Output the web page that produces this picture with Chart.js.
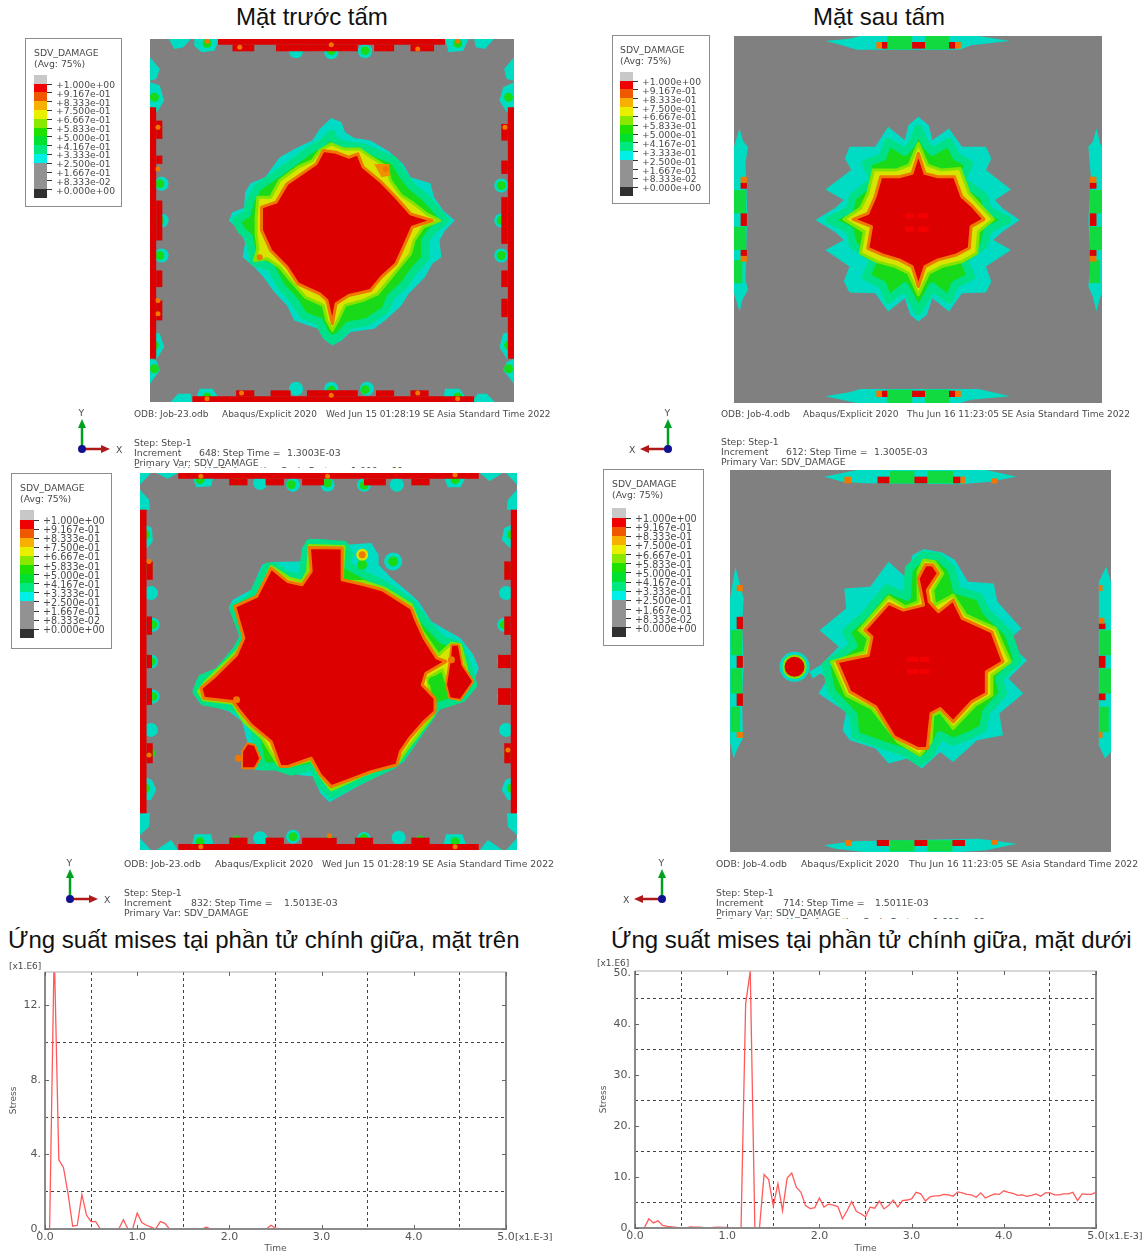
<!DOCTYPE html>
<html>
<head>
<meta charset="utf-8">
<title>SDV_DAMAGE</title>
<script src="https://cdn.jsdelivr.net/npm/chart.js@4/dist/chart.umd.min.js"></script>
<style>
html, body { margin: 0; padding: 0; background: #fff; }
#page { position: relative; width: 1147px; height: 1254px; overflow: hidden; }
#page canvas { position: absolute; filter: blur(0.7px); }
.txt { position: absolute; white-space: pre; transform: translateY(-50%); }
.note { font-family: "DejaVu Sans", sans-serif; font-size: 9.3px; color: #4a4a4a; filter: blur(0.25px); }
.head { font-family: "Liberation Sans", Arial, sans-serif; color: #111; }
.box { position: absolute; border: 1.5px solid #8c8c8c; background: #fff; box-sizing: border-box; }
.swatch { position: absolute; }
.cut { position: absolute; overflow: hidden; white-space: pre; font-family: "DejaVu Sans", sans-serif; font-size: 9.3px; line-height: 11px; color: #4a4a4a; }
</style>
</head>
<body>
<div id="page"></div>
<script>
// legend of the contour plots
const legendValues = ['+1.000e+00', '+9.167e-01', '+8.333e-01', '+7.500e-01', '+6.667e-01', '+5.833e-01', '+5.000e-01',
    '+4.167e-01', '+3.333e-01', '+2.500e-01', '+1.667e-01', '+8.333e-02', '+0.000e+00'];
const legendColors = ['#c8c8c8', '#f00000', '#f05800', '#f8b000', '#e8f000', '#88e800', '#20e000', '#00e030',
    '#00e880', '#00f0e8', '#929292', '#929292', '#929292', '#303030'];

// --- front face, t = 1.3 ms (plate units)
const frontCyan = [[912,352],[940,365],[950,395],[975,412],[1020,420],[1070,452],[1110,490],[1130,530],[1185,548],[1195,590],[1220,630],[1252,660],[1225,690],[1210,720],[1215,770],[1190,790],[1170,830],[1125,880],[1105,915],[1060,960],[1030,985],[965,995],[940,1020],[915,1035],[890,1015],[875,985],[810,960],[790,915],[755,875],[725,830],[700,800],[668,770],[675,725],[660,690],[630,660],[640,635],[672,622],[675,575],[690,548],[730,530],[770,470],[820,440],[860,420],[880,385]];
const frontGreen = [[912,400],[925,425],[960,435],[1000,440],[1040,460],[1085,480],[1110,525],[1135,560],[1170,590],[1195,620],[1225,660],[1190,690],[1170,720],[1170,775],[1140,810],[1115,850],[1075,890],[1060,930],[1010,965],[960,975],[935,1005],[915,1020],[895,1000],[880,965],[835,945],[810,900],[775,860],[745,800],[700,785],[695,760],[685,710],[665,690],[650,660],[680,640],[690,600],[710,560],[750,530],[795,495],[850,450],[890,425]];
const frontYellow = [[912,430],[945,445],[990,445],[1015,465],[1065,500],[1075,540],[1105,585],[1140,610],[1175,640],[1210,660],[1165,680],[1140,720],[1130,760],[1100,800],[1070,840],[1040,880],[1000,900],[950,915],[930,960],[915,990],[900,960],[890,915],[840,890],[800,840],[770,800],[735,775],[700,780],[710,745],[705,700],[705,650],[710,590],[745,590],[770,540],[820,500],[860,480],[880,450]];
const frontRed = [[890,450],[925,455],[960,470],[985,460],[1000,500],[1050,545],[1090,590],[1130,640],[1190,660],[1135,680],[1115,730],[1090,790],[1050,830],[1020,870],[960,885],[925,910],[915,970],[900,900],[880,880],[820,850],[790,800],[745,750],[720,690],[720,620],[760,605],[790,550],[830,520],[870,490]];
const frontPatches = [[[1030,490],[1070,490],[1075,525],[1050,530]]];
const frontLobes = [
    [[465,115],[525,115],[505,140],[480,145]], [[535,115],[605,115],[590,150],[555,155],[535,135]],
    [[1225,115],[1290,115],[1275,150],[1235,155]], [[1305,115],[1360,115],[1335,145],[1310,140]],
    [[470,1205],[490,1180],[525,1180],[530,1205]], [[535,1205],[550,1165],[585,1165],[610,1205]],
    [[1220,1205],[1225,1165],[1265,1165],[1290,1205]], [[1300,1205],[1315,1180],[1340,1180],[1362,1205]],
    [[413,170],[440,205],[430,235],[413,240]], [[413,245],[440,255],[452,300],[432,335],[413,320]],
    [[413,1075],[430,1080],[440,1110],[413,1150]], [[413,990],[440,1000],[452,1040],[432,1075],[413,1075]],
    [[1415,170],[1388,205],[1395,235],[1415,240]], [[1415,245],[1385,260],[1375,300],[1395,335],[1415,320]],
    [[1415,1075],[1395,1085],[1385,1110],[1415,1150]], [[1415,990],[1385,1000],[1375,1040],[1395,1075],[1415,1075]]
];
const frontBlocks = [
    [600,115,1225,132], [845,132,985,152], [640,132,700,152], [760,132,845,152], [1030,132,1085,152], [1130,132,1195,152],
    [530,1188,1305,1205], [845,1170,985,1188], [650,1170,700,1188], [745,1170,800,1188], [1035,1170,1085,1188], [1130,1170,1180,1188],
    [413,320,430,1075], [430,360,447,415], [430,465,447,490], [430,600,447,720], [430,810,447,860], [430,900,447,960],
    [1398,320,1415,1075], [1380,370,1398,420], [1380,480,1398,520], [1380,590,1398,730], [1380,810,1398,860], [1380,895,1398,950]
];
const frontCyanSpots = [[815,152],[912,155],[1005,152],[445,550],[445,660],[445,765],[1380,555],[1380,660],[1380,765],[815,1165],[912,1165],[1010,1165]];
const frontGreenSpots = [[912,150],[1005,150],[440,660],[1380,660],[912,1170],[1005,1168],[425,290],[425,1035],[1400,290],[1400,1035],[570,128],[1260,128],[570,1190],[1260,1190],[425,1105],[1400,1105],[440,550],[1380,555],[440,765],[1380,765]];
const frontOrangeSpots = [[435,380],[435,505],[435,900],[435,940],[1390,380],[660,140],[1150,145],[912,132],[1150,1178],[665,1178],[912,1185],[570,122],[570,1195],[1260,122],[1260,1195]];
const frontInnerOrange = [[1062,505],[715,770]];

// --- rear face, t = 1.3 ms
const rearCyan = [[947,350],[975,375],[985,420],[1030,385],[1065,440],[1130,440],[1145,475],[1130,510],[1198,568],[1155,600],[1175,625],[1222,660],[1175,695],[1150,720],[1198,750],[1130,800],[1145,845],[1130,878],[1065,880],[1030,935],[985,895],[970,945],[947,965],[925,945],[910,895],[865,935],[830,880],[760,878],[745,845],[760,800],[695,750],[745,720],[720,695],[668,660],[720,625],[745,600],[695,568],[765,510],[748,475],[760,440],[830,440],[865,380],[910,420],[920,375]];
const rearGreen = [[947,385],[965,430],[985,455],[1030,425],[1050,470],[1085,490],[1065,540],[1125,590],[1135,630],[1190,660],[1135,690],[1125,735],[1070,780],[1090,830],[1045,855],[1030,900],[985,860],[965,900],[947,935],[930,900],[910,860],[865,900],[850,855],[805,830],[825,780],[770,735],[760,690],[705,660],[760,630],[770,590],[825,540],[805,490],[850,470],[865,425],[910,455],[930,430]];
const rearYellow = [[947,430],[972,495],[1010,510],[1060,505],[1085,580],[1110,610],[1150,658],[1110,695],[1105,760],[1065,785],[1010,800],[975,820],[947,885],[920,820],[885,800],[835,785],[790,760],[800,695],[745,658],[790,625],[810,580],[825,510],[885,510],[922,495]];
const rearRed = [[947,460],[965,520],[1000,530],[1045,530],[1065,590],[1095,620],[1125,658],[1090,680],[1085,745],[1050,765],[1000,780],[965,800],[947,860],[930,800],[895,780],[850,765],[810,745],[820,680],[770,658],[810,640],[830,590],[845,530],[895,530],[930,520]];
const rearLobes = [
    [[462,385],[472,425],[485,440],[478,490],[480,530],[483,640],[480,760],[478,840],[485,870],[470,900],[462,935],[447,880],[447,440]],
    [[1430,385],[1440,430],[1445,440],[1445,880],[1438,900],[1430,935],[1420,890],[1408,860],[1415,790],[1408,660],[1415,530],[1408,440],[1420,425]],
    [[695,122],[760,115],[790,107],[1110,107],[1195,122],[1090,135],[1060,148],[780,148],[740,135]],
    [[695,1190],[760,1178],[790,1168],[1110,1168],[1195,1190],[1090,1200],[1060,1210],[780,1210]]
];
const rearGreens = [[447,570,480,640],[447,680,480,750],[447,780,470,850],[1412,570,1445,640],[1412,680,1445,750],[1412,780,1440,850],[863,107,930,147],[965,107,1030,147],[863,1170,930,1210],[965,1170,1030,1210]];
const rearBlocks = [[465,548,482,566],[465,640,482,678],[465,750,482,768],[1412,548,1430,566],[1412,640,1430,678],[1412,750,1430,768],[848,125,863,145],[930,125,965,145],[1030,125,1047,145],[848,1173,863,1192],[930,1173,965,1192],[1030,1173,1047,1192]];
const rearOrange = [[465,530,482,548],[465,768,482,785],[1412,530,1430,548],[1412,768,1430,785],[833,125,848,145],[1047,125,1062,145],[833,1173,848,1192],[1047,1173,1062,1192]];
const rearCore = [[912,640,935,655],[945,640,975,655],[912,680,935,695],[945,680,975,695]];

// --- front face, t = 1.5 ms
const frontLateCyan = [[850,222],[900,225],[950,240],[1020,235],[1040,270],[1040,300],[1075,340],[1130,390],[1150,410],[1185,470],[1265,520],[1300,570],[1315,610],[1290,680],[1250,710],[1195,740],[1180,770],[1160,810],[1110,890],[1085,910],[990,960],[905,1012],[880,985],[860,935],[820,930],[785,915],[700,915],[665,770],[630,740],[560,715],[530,680],[540,645],[590,615],[640,555],[660,510],[630,425],[640,405],[690,375],[720,300],[750,292],[825,290],[830,250]];
const frontLateGreen = [[850,235],[945,240],[960,270],[950,300],[1010,335],[1065,365],[1130,415],[1175,480],[1215,525],[1260,540],[1285,600],[1300,660],[1270,700],[1200,725],[1180,760],[1140,820],[1105,875],[1080,900],[1000,940],[910,990],[880,955],[860,905],[800,920],[760,905],[720,905],[700,800],[680,755],[635,725],[560,710],[540,680],[555,640],[600,620],[650,555],[670,515],[640,430],[690,400],[735,305],[755,305],[785,330],[830,340],[840,260]];
const frontLateYellow = [[850,242],[945,245],[940,350],[1000,350],[1055,370],[1130,420],[1160,500],[1205,570],[1240,535],[1265,540],[1290,650],[1260,705],[1235,695],[1225,650],[1215,615],[1175,640],[1180,680],[1195,720],[1190,750],[1120,850],[1095,890],[1000,930],[910,975],[885,940],[855,885],[790,905],[765,900],[720,820],[670,770],[640,715],[560,705],[545,680],[565,650],[650,560],[675,515],[650,425],[710,395],[745,305],[795,340],[830,350],[845,320]];
const frontLateRed = [[850,248],[940,250],[940,345],[1000,360],[1050,375],[1130,430],[1140,460],[1165,520],[1200,580],[1225,590],[1170,625],[1160,660],[1195,700],[1195,740],[1165,770],[1125,820],[1100,860],[1090,900],[1020,920],[960,945],[910,965],[880,930],[855,880],[790,905],[770,905],[745,830],[690,780],[660,740],[640,710],[560,700],[552,670],[590,635],[650,570],[670,520],[645,425],[705,395],[745,310],[790,350],[830,360],[855,320]];
const frontLateIslands = [
    [[1240,540],[1260,540],[1270,600],[1300,650],[1265,705],[1235,700],[1225,660],[1235,590]],
    [[665,860],[680,835],[700,840],[715,880],[700,910],[665,910]]
];
const frontLateLobes = [
    [[385,25],[415,25],[385,60]], [[1420,25],[1390,25],[1420,60]], [[385,1155],[415,1155],[385,1120]], [[1420,1155],[1390,1155],[1420,1120]],
    [[385,75],[410,105],[412,135],[385,135]], [[1420,75],[1395,105],[1392,135],[1420,135]],
    [[385,1045],[412,1045],[410,1085],[385,1110]], [[1420,1045],[1392,1045],[1395,1085],[1420,1110]],
    [[385,172],[418,190],[420,230],[405,250],[385,250]], [[1420,172],[1385,190],[1378,225],[1400,250],[1420,250]],
    [[385,930],[418,945],[430,975],[415,1005],[385,1005]], [[1420,930],[1388,945],[1378,975],[1395,1005],[1420,1005]],
    [[490,25],[430,25],[460,42]], [[525,25],[590,25],[580,65],[540,68]], [[1215,25],[1285,25],[1265,68],[1230,68]], [[1318,25],[1380,25],[1345,50]],
    [[430,1155],[470,1125],[490,1155]], [[525,1155],[535,1108],[580,1108],[590,1155]], [[1215,1155],[1225,1108],[1270,1108],[1285,1155]], [[1318,1155],[1340,1125],[1380,1155]]
];
const frontLateBlocks = [
    [490,25,1315,42], [630,42,680,62], [730,42,780,62], [830,42,890,62], [1000,42,1060,62], [1130,42,1180,62],
    [490,1137,1315,1155], [630,1118,680,1137], [730,1118,780,1137], [830,1118,925,1137], [975,1118,1025,1137], [1130,1118,1180,1137],
    [385,135,403,1045], [403,290,420,345], [403,455,418,510], [403,570,418,610], [403,670,418,720], [403,835,420,895],
    [1403,135,1420,1045], [1385,290,1403,345], [1385,455,1403,510], [1368,570,1403,610], [1368,670,1403,720], [1385,835,1403,895]
];
const frontLateCyanSpots = [[805,60],[900,60],[1000,60],[420,480],[415,590],[420,695],[1385,480],[1385,590],[1385,695],[805,1115],[1000,1122],[715,55],[1090,60],[415,385],[1390,385],[415,795],[1390,795],[715,1120],[1095,1118]];
const frontLateGreenSpots = [[900,55],[800,60],[1000,62],[420,480],[415,590],[420,695],[1385,480],[1385,590],[1385,695],[805,1115],[905,1125],[1000,1120],[410,310],[415,865],[1395,310],[1395,865],[550,45],[1250,45],[550,1130],[1250,1130],[400,210],[1405,210],[400,970],[1405,970],[650,1125],[1155,1125],[650,50],[1155,50]];
const frontLateOrangeSpots = [[905,1112],[900,35],[410,290],[410,870],[1395,855],[552,35],[1250,30],[552,1145],[1250,1145]];
const frontLateSatelliteCyan = [[1080,290]];
const frontLateSatelliteGreen = [[1080,290],[995,300],[1190,650]];
const frontLateSatelliteYellow = [[995,270]];
const frontLateInnerOrange = [[995,270],[650,705],[655,880],[1240,585]];

// --- rear face, t = 1.5 ms
const rearLateCyan = [[960,252],[1010,262],[1045,285],[1080,350],[1150,355],[1160,410],[1225,490],[1185,530],[1240,585],[1190,640],[1230,685],[1165,745],[1175,810],[1105,825],[1040,890],[1005,860],[955,910],[915,880],[865,895],[830,850],[760,825],[740,795],[750,740],[675,685],[700,640],[680,625],[660,640],[650,620],[680,600],[730,545],[678,495],[750,430],[745,370],[815,365],[865,290],[915,340],[930,270]];
const rearLateGreen = [[960,270],[1000,275],[1035,310],[1050,375],[1110,395],[1130,440],[1190,505],[1215,585],[1165,640],[1175,685],[1130,740],[1120,790],[1085,810],[1040,830],[1005,810],[975,870],[950,890],[905,860],[850,840],[775,810],[770,750],[710,680],[695,600],[770,540],[750,500],[800,450],[860,370],[915,395],[920,310]];
const rearLateYellow = [[960,285],[990,290],[1012,325],[985,375],[990,420],[1040,390],[1075,450],[1155,490],[1195,590],[1145,630],[1145,690],[1100,720],[1040,790],[1005,740],[985,750],[980,830],[950,870],[890,830],[820,730],[750,690],[710,590],[800,560],[810,520],[785,495],[865,395],[910,425],[945,410],[945,320]];
const rearLateRed = [[965,298],[985,300],[1000,325],[970,375],[975,410],[1000,440],[1040,405],[1065,460],[1145,500],[1175,590],[1130,620],[1130,685],[1090,710],[1040,770],[1005,730],[980,745],[970,850],[945,850],[880,815],[830,725],[760,680],[725,590],[810,570],[820,515],[800,495],[865,415],[905,435],[960,420],[945,340]];
const rearLateLobes = [
    [[450,305],[460,350],[472,400],[468,480],[472,600],[468,700],[470,820],[455,850],[445,880],[435,830],[435,400]],
    [[1455,305],[1468,350],[1468,860],[1452,880],[1435,840],[1435,350]],
    [[690,35],[750,22],[780,15],[1130,15],[1212,35],[1140,50],[1060,58],[800,55],[740,50]],
    [[690,1140],[770,1128],[1110,1120],[1212,1135],[1130,1155],[1060,1160],[800,1160],[720,1150]]
];
const rearLateGreens = [[437,495,468,570],[437,610,468,685],[437,725,462,800],[1437,495,1468,570],[1437,610,1468,685],[1437,725,1462,800],[868,18,935,55],[970,18,1040,55],[868,1125,935,1158],[970,1125,1038,1158]];
const rearLateBlocks = [[453,455,470,492],[453,572,470,608],[453,685,470,722],[1435,475,1453,492],[1435,572,1453,608],[1435,685,1453,705],[835,35,867,55],[935,35,970,55],[1040,35,1060,55],[833,1124,866,1142],[935,1124,970,1142],[1038,1124,1072,1142]];
const rearLateOrange = [[453,360,470,378],[453,800,470,818],[1435,360,1445,378],[1435,800,1445,818],[745,35,763,55],[1060,35,1072,55],[748,1124,763,1142],[1143,1124,1160,1138],[1143,40,1160,55],[1435,458,1450,475]];
const rearLateCore = [[915,575,945,590],[950,575,975,590],[915,612,945,627],[950,612,975,627]];
const rearLateSatellite = [[610,605]];

// --- Stress curves, time in 1e-3 s
const stressTimes = [0,0.05,0.1,0.15,0.2,0.25,0.3,0.35,0.4,0.45, 0.5,0.55,0.6,0.65,0.7,0.75,0.8,0.85,0.9,0.95,
    1,1.05,1.1,1.15,1.2,1.25,1.3,1.35,1.4,1.45, 1.5,1.55,1.6,1.65,1.7,1.75,1.8,1.85,1.9,1.95,
    2,2.05,2.1,2.15,2.2,2.25,2.3,2.35,2.4,2.45, 2.5,2.55,2.6,2.65,2.7,2.75,2.8,2.85,2.9,2.95,
    3,3.05,3.1,3.15,3.2,3.25,3.3,3.35,3.4,3.45, 3.5,3.55,3.6,3.65,3.7,3.75,3.8,3.85,3.9,3.95,
    4,4.05,4.1,4.15,4.2,4.25,4.3,4.35,4.4,4.45, 4.5,4.55,4.6,4.65,4.7,4.75,4.8,4.85,4.9,4.95, 5];
const topStress = [0,0,15,3.7,3.3,1.9,0.15,0.2,1.85,0.75, 0.4,0.4,0,0,0,0,0,0.5,0,0,
    0.85,0.35,0.2,0.1,0,0.4,0.3,0,0,0, 0,0,0,0,0,0.1,0,0,0,0,
    0,0,0,0,0,0,0,0,0,0.2, 0.05,0,0,0,0,0,0,0,0,0,
    0,0,0,0,0,0,0,0,0,0, 0,0,0,0,0,0,0,0,0,0,
    0,0,0,0,0,0,0,0,0,0, 0,0,0,0,0,0,0,0,0,0, 0];
const bottomStress = [0,0,0,1.8,1,1.4,0.5,0.3,0.2,0.1, 0,0,0.2,0.15,0.15,0.05,0,0.1,0.15,0.1,
    0.1,0,0,0,44,50.5,0,0,10.5,9.5, 4.3,8.7,3.4,9.8,10.8,8,7,4.4,3.8,4,
    5.9,4.1,4.7,4.5,4.2,1.8,3.4,5.2,3.3,2.8, 2.2,4.1,3.9,5.3,3.75,4.4,5.5,4.1,5.4,5.5,
    5.7,7,6.7,5.3,6.1,6.3,6.3,6.6,6.5,6.25, 7.1,6.9,6.6,6.5,6.05,6.9,5.9,6.3,6.7,6.6,
    7.3,7,6.8,6.4,6.5,6.2,6.4,6.7,6.25,6.9, 6.9,6.5,6.5,6.7,6.7,7,5.4,6.7,6.6,6.6, 7];
const timeLabels = [0, 1, 2, 3, 4, 5];
const timeGrid = [0.5, 1.5, 2.5, 3.5, 4.5];
const topLabels = [0, 4, 8, 12];
const topGrid = [2, 6, 10];
const bottomLabels = [0, 10, 20, 30, 40, 50];
const bottomGrid = [5, 15, 25, 35, 45];

const page = document.getElementById('page');

function addText(text, x, y, cls, size) {
    const el = document.createElement('div');
    el.className = 'txt ' + cls;
    el.textContent = text;
    el.style.left = x + 'px';
    el.style.top = y + 'px';
    if (size) el.style.fontSize = size + 'px';
    page.appendChild(el);
    return el;
}

// the reference cuts this line off, only the top of the letters shows
function addCutLine(x, y, h) {
    const el = document.createElement('div');
    el.className = 'cut';
    el.textContent = 'Deformed Var: U   Deformation Scale Factor: +1.000e+00';
    el.style.cssText = `left:${x}px;top:${y}px;height:${h}px;width:300px`;
    page.appendChild(el);
}

// fills the closed outlines, using the pixel positions the chart computed for the points
const polygonFill = {
    id: 'polygonFill',
    beforeDatasetDraw(chart, args) {
        const ds = chart.data.datasets[args.index];
        if (!ds.polygon) return;
        const pts = args.meta.data;
        const ctx = chart.ctx;
        ctx.save();
        ctx.beginPath();
        pts.forEach((p, i) => { if (i === 0) ctx.moveTo(p.x, p.y); else ctx.lineTo(p.x, p.y); });
        ctx.closePath();
        ctx.fillStyle = ds.backgroundColor;
        ctx.fill();
        if (ds.borderWidth) {
            ctx.lineJoin = 'round';
            ctx.lineWidth = ds.borderWidth;
            ctx.strokeStyle = ds.borderColor;
            ctx.stroke();
        }
        ctx.restore();
    }
};

function polygon(points, fill, stroke, width) {
    return {
        polygon: true, data: points.map(p => ({ x: p[0], y: p[1] })), backgroundColor: fill,
        borderColor: stroke || fill, borderWidth: width || 0, pointRadius: 0, showLine: false
    };
}
function block(r, fill) {
    return polygon([[r[0], r[1]], [r[2], r[1]], [r[2], r[3]], [r[0], r[3]]], fill);
}
function spots(points, color, radius) {
    return {
        data: points.map(p => ({ x: p[0], y: p[1] })), backgroundColor: color, borderWidth: 0,
        pointRadius: radius, showLine: false
    };
}

const CYAN = '#00dcc4', TEAL = '#00e088', GREEN = '#18da18', LIME = '#84e400', YELLOW = '#d8e400', ORANGE = '#f07800', RED = '#dc0000';

function contourLayers(c) {
    return [].concat(
        c.lobes.map(p => polygon(p, CYAN)),
        (c.greens || []).map(r => block(r, '#10da40')),
        [spots(c.cyanSpots || [], CYAN, 7), spots(c.greenSpots || [], GREEN, 4.5)],
        c.blocks.map(r => block(r, RED)),
        [spots(c.orangeSpots || [], ORANGE, 2.5)],
        (c.orange || []).map(r => block(r, ORANGE)),
        [polygon(c.cyan, CYAN), polygon(c.green, GREEN, TEAL, 8), polygon(c.yellow, YELLOW, LIME, 3), polygon(c.red, RED, ORANGE, 3)],
        (c.islands || []).map(p => polygon(p, RED, ORANGE, 2)),
        (c.core || []).map(r => block(r, '#f40000')),
        c.after || []
    );
}

function drawContour(c) {
    const cv = document.createElement('canvas');
    cv.width = c.w; cv.height = c.h;
    cv.style.left = c.left + 'px'; cv.style.top = c.top + 'px';
    cv.style.background = '#808080';
    page.appendChild(cv);
    new Chart(cv, {
        type: 'scatter',
        data: { datasets: contourLayers(c).reverse() }, // the chart paints the last dataset first
        options: {
            responsive: false, animation: false,
            layout: { padding: 0, autoPadding: false },
            scales: {
                x: { type: 'linear', display: false, min: c.xRange[0], max: c.xRange[1] },
                y: { type: 'linear', display: false, min: c.yRange[0], max: c.yRange[1], reverse: true }
            },
            plugins: { legend: { display: false }, tooltip: { enabled: false } }
        },
        plugins: [polygonFill]
    });
}

function drawLegend(x, y, w, h, sx, sw, step, first) {
    const box = document.createElement('div');
    box.className = 'box';
    box.style.cssText = `left:${x}px;top:${y}px;width:${w}px;height:${h}px`;
    page.appendChild(box);
    addText('SDV_DAMAGE', sx, y + 13.5, 'note');
    addText('(Avg: 75%)', sx, y + 25, 'note');
    legendColors.forEach((col, i) => {
        const s = document.createElement('div');
        s.className = 'swatch';
        s.style.cssText = `left:${sx}px;top:${first - step + i * step}px;width:${sw}px;height:${step + 0.5}px;background:${col}`;
        page.appendChild(s);
    });
    legendValues.forEach((v, i) => {
        const t = document.createElement('div');
        t.className = 'swatch';
        t.style.cssText = `left:${sx + sw}px;top:${first + i * step}px;width:5px;height:1px;background:#333`;
        page.appendChild(t);
        addText(v, sx + sw + 9, first + i * step + 0.5, 'note', w > 100 ? 9.6 : 9.2);
    });
}

function drawTriad(ox, oy, dir) {
    const svg = document.createElementNS('http://www.w3.org/2000/svg', 'svg');
    svg.setAttribute('width', 70); svg.setAttribute('height', 60);
    svg.style.cssText = `position:absolute;left:${ox - 35}px;top:${oy - 35}px`;
    const ex = 35 + dir * 28;
    svg.innerHTML =
        `<line x1="35" y1="35" x2="35" y2="12" stroke="#00a020" stroke-width="2.5"/>` +
        `<polygon points="35,5 31,14 39,14" fill="#00a020"/>` +
        `<line x1="35" y1="35" x2="${ex - dir * 6}" y2="35" stroke="#b01818" stroke-width="2.5"/>` +
        `<polygon points="${ex},35 ${ex - dir * 9},31 ${ex - dir * 9},39" fill="#b01818"/>` +
        `<circle cx="35" cy="35" r="4" fill="#101090"/>`;
    page.appendChild(svg);
    addText('Y', ox - 3.5, oy - 37, 'note');
    addText('X', ox + (dir > 0 ? 34 : -39), oy, 'note');
}

function drawNotes(n) {
    addText(n.odb, n.x, n.y, 'note', n.size);
    addText('Abaqus/Explicit 2020', n.x2, n.y, 'note', n.size);
    addText(n.date, n.x3, n.y, 'note', n.size);
    addText('Step: Step-1', n.x, n.y2, 'note');
    addText('Increment', n.x, n.y2 + 9.5, 'note');
    addText(n.inc + ': Step Time =', n.x4, n.y2 + 9.5, 'note');
    addText(n.time, n.x5, n.y2 + 9.5, 'note');
    addText('Primary Var: SDV_DAMAGE', n.x, n.y2 + 19.5, 'note');
}

// small inward ticks and the box round the plot, placed through the scales
const plotFrame = {
    id: 'plotFrame',
    afterDraw(chart, args, opts) {
        const { ctx, chartArea: a, scales } = chart;
        ctx.save();
        ctx.strokeStyle = '#b0b0b0';
        ctx.lineWidth = 1;
        ctx.strokeRect(a.left, a.top, a.right - a.left, a.bottom - a.top);
        ctx.strokeStyle = '#8a8a8a';
        ctx.lineWidth = 2;
        ctx.beginPath();
        ctx.moveTo(a.left, a.top); ctx.lineTo(a.left, a.bottom); ctx.lineTo(a.right, a.bottom); ctx.lineTo(a.right, a.top);
        ctx.stroke();
        ctx.strokeStyle = '#666';
        ctx.lineWidth = 1;
        ctx.beginPath();
        opts.xTicks.forEach(v => {
            const x = Math.round(scales.x.getPixelForValue(v)) + 0.5;
            ctx.moveTo(x, a.bottom); ctx.lineTo(x, a.bottom - 4);
            ctx.moveTo(x, a.top); ctx.lineTo(x, a.top + 4);
        });
        opts.yTicks.forEach(v => {
            const y = Math.round(scales.y.getPixelForValue(v)) + 0.5;
            ctx.moveTo(a.left, y); ctx.lineTo(a.left + 4, y);
            ctx.moveTo(a.right, y); ctx.lineTo(a.right - 4, y);
        });
        ctx.stroke();
        ctx.restore();
    }
};

function drawStress(c) {
    const cv = document.createElement('canvas');
    cv.width = c.w; cv.height = c.h;
    cv.style.left = c.left + 'px'; cv.style.top = c.top + 'px';
    cv.style.filter = 'blur(0.35px)';
    page.appendChild(cv);
    const tickFont = { family: '"DejaVu Sans", sans-serif', size: 11 };
    new Chart(cv, {
        type: 'line',
        data: {
            labels: stressTimes,
            datasets: [{
                data: stressTimes.map((t, i) => ({ x: t, y: c.values[i] })),
                borderColor: '#ff5a5a', borderWidth: 1.3, pointRadius: 0, tension: 0, fill: false
            }]
        },
        options: {
            responsive: false, animation: false,
            layout: { padding: { left: 0, top: c.plotTop, right: c.w - c.plotRight, bottom: 0 } },
            scales: {
                x: {
                    type: 'linear', min: 0, max: 5,
                    afterFit(s) { s.height = c.h - c.plotBottom; },
                    afterBuildTicks(s) { s.ticks = timeLabels.concat(timeGrid).sort((a, b) => a - b).map(v => ({ value: v })); },
                    grid: {
                        drawTicks: false,
                        color: k => (k.tick && timeGrid.includes(k.tick.value)) ? '#444' : 'rgba(0,0,0,0)'
                    },
                    border: { display: false, dash: [3, 3] },
                    ticks: {
                        autoSkip: false, maxRotation: 0, padding: 2, color: '#555', font: tickFont,
                        callback: v => timeLabels.includes(v) ? v.toFixed(1) : ''
                    },
                    title: { display: true, text: 'Time', color: '#555', padding: 0, font: { family: '"DejaVu Sans", sans-serif', size: 9 } }
                },
                y: {
                    type: 'linear', min: 0, max: c.yMax,
                    afterFit(s) { s.width = c.plotLeft; },
                    afterBuildTicks(s) { s.ticks = c.labels.concat(c.grid).sort((a, b) => a - b).map(v => ({ value: v })); },
                    grid: {
                        drawTicks: false,
                        color: k => (k.tick && c.grid.includes(k.tick.value)) ? '#444' : 'rgba(0,0,0,0)'
                    },
                    border: { display: false, dash: [3, 3] },
                    ticks: {
                        autoSkip: false, padding: 4, color: '#555', font: tickFont,
                        callback: v => c.labels.includes(v) ? v + '.' : ''
                    },
                    title: { display: true, text: 'Stress', color: '#555', padding: { top: 8, bottom: 0 }, font: { family: '"DejaVu Sans", sans-serif', size: 9 } }
                }
            },
            plugins: {
                legend: { display: false }, tooltip: { enabled: false },
                plotFrame: { xTicks: timeLabels, yTicks: c.labels }
            }
        },
        plugins: [plotFrame]
    });
}

// headings
addText('Mặt trước tấm', 236, 17, 'head', 24);
addText('Mặt sau tấm', 813, 17, 'head', 24);
addText('Ứng suất mises tại phần tử chính giữa, mặt trên', 8, 940, 'head', 24);
addText('Ứng suất mises tại phần tử chính giữa, mặt dưới', 611, 940, 'head', 24);

// run information that runs under the next plot goes first
addCutLine(134, 465, 3);
addCutLine(716, 916, 3);

// contour plots
drawContour({ left: 150, top: 39, w: 364, h: 363, xRange: [413, 1415], yRange: [115, 1205],
    cyan: frontCyan, green: frontGreen, yellow: frontYellow, red: frontRed, lobes: frontLobes, blocks: frontBlocks,
    cyanSpots: frontCyanSpots, greenSpots: frontGreenSpots, orangeSpots: frontOrangeSpots,
    after: [polygon(frontPatches[0], '#f09000'), spots(frontInnerOrange, ORANGE, 3)] });
drawContour({ left: 734, top: 36, w: 368, h: 367, xRange: [447, 1445], yRange: [107, 1210],
    cyan: rearCyan, green: rearGreen, yellow: rearYellow, red: rearRed, lobes: rearLobes, greens: rearGreens,
    blocks: rearBlocks, orange: rearOrange, core: rearCore });
drawContour({ left: 140, top: 473, w: 377, h: 377, xRange: [385, 1420], yRange: [25, 1155],
    cyan: frontLateCyan, green: frontLateGreen, yellow: frontLateYellow, red: frontLateRed, islands: frontLateIslands,
    lobes: frontLateLobes, blocks: frontLateBlocks, cyanSpots: frontLateCyanSpots, greenSpots: frontLateGreenSpots,
    orangeSpots: frontLateOrangeSpots,
    after: [spots(frontLateSatelliteCyan, CYAN, 9), spots(frontLateSatelliteGreen, GREEN, 5),
        spots(frontLateSatelliteYellow, YELLOW, 6), spots(frontLateInnerOrange, ORANGE, 3.5)] });
drawContour({ left: 730, top: 470, w: 381, h: 382, xRange: [435, 1468], yRange: [15, 1160],
    cyan: rearLateCyan, green: rearLateGreen, yellow: rearLateYellow, red: rearLateRed, lobes: rearLateLobes, greens: rearLateGreens,
    blocks: rearLateBlocks, orange: rearLateOrange, core: rearLateCore,
    after: [spots(rearLateSatellite, CYAN, 15), spots(rearLateSatellite, LIME, 12), spots(rearLateSatellite, RED, 10)] });

// legends
drawLegend(25, 38, 97, 169, 34, 13, 8.8, 83.5);
drawLegend(611.5, 35, 98, 169, 620, 13, 8.85, 80.5);
drawLegend(11, 473, 101, 176, 20, 14, 9.1, 519.5);
drawLegend(603, 469, 101, 177, 612, 14, 9.15, 517.5);

// triads
drawTriad(82, 449, 1);
drawTriad(668, 449, -1);
drawTriad(70, 899, 1);
drawTriad(662, 899, -1);

// run information under each plot
drawNotes({ odb: 'ODB: Job-23.odb', date: 'Wed Jun 15 01:28:19 SE Asia Standard Time 2022', inc: '648', time: '1.3003E-03',
    x: 134, x2: 222, x3: 326, x4: 199, x5: 287, y: 414, y2: 442, size: 9 });
drawNotes({ odb: 'ODB: Job-4.odb', date: 'Thu Jun 16 11:23:05 SE Asia Standard Time 2022', inc: '612', time: '1.3005E-03',
    x: 721, x2: 803, x3: 907, x4: 786, x5: 874, y: 414, y2: 441, size: 9.05 });
drawNotes({ odb: 'ODB: Job-23.odb', date: 'Wed Jun 15 01:28:19 SE Asia Standard Time 2022', inc: '832', time: '1.5013E-03',
    x: 124, x2: 215, x3: 322, x4: 191, x5: 284, y: 863, y2: 892, size: 9.3 });
drawNotes({ odb: 'ODB: Job-4.odb', date: 'Thu Jun 16 11:23:05 SE Asia Standard Time 2022', inc: '714', time: '1.5011E-03',
    x: 716, x2: 801, x3: 909, x4: 783, x5: 875, y: 863, y2: 892, size: 9.3 });

// stress curves
drawStress({ left: 0, top: 960, w: 560, h: 294, values: topStress, yMax: 13.77, labels: topLabels, grid: topGrid,
    plotLeft: 45, plotRight: 506, plotTop: 12, plotBottom: 269 });
drawStress({ left: 590, top: 960, w: 557, h: 294, values: bottomStress, yMax: 50.5, labels: bottomLabels, grid: bottomGrid,
    plotLeft: 45, plotRight: 506, plotTop: 11, plotBottom: 268 });
addText('[x1.E6]', 9, 966, 'note', 9);
addText('[x1.E6]', 597, 963, 'note', 9);
addText('[x1.E-3]', 515, 1236, 'note', 9.5);
addText('[x1.E-3]', 1105, 1235, 'note', 9.5);
</script>
</body>
</html>
